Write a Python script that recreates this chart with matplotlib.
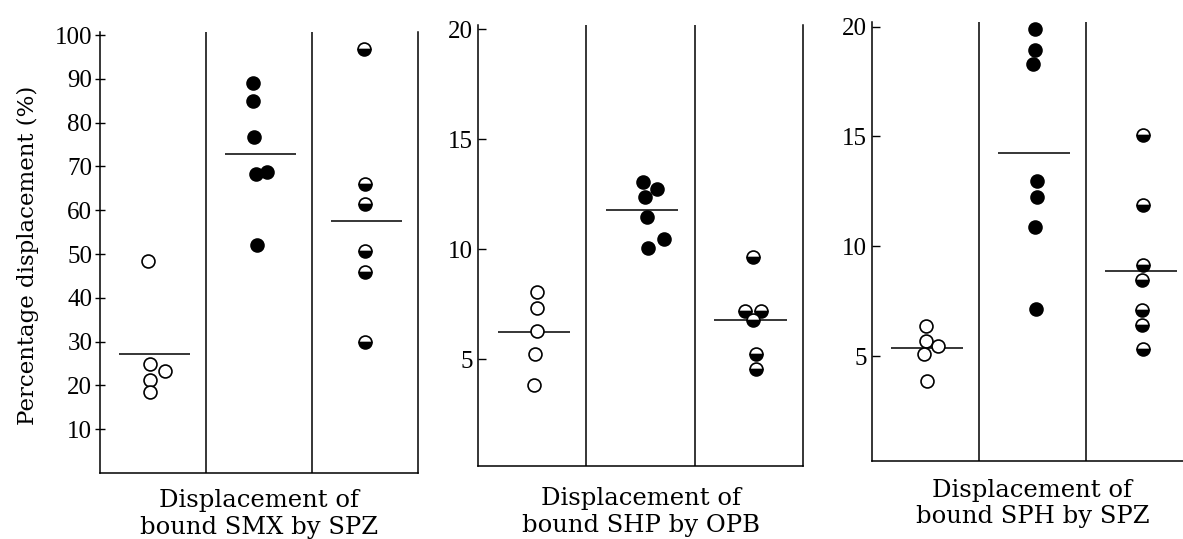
import matplotlib
matplotlib.use("Agg")
import matplotlib.pyplot as plt

plt.rcParams["font.family"] = ["DejaVu Serif"]

# three experiments, three groups each: control (open), drug (filled), half
titles = ["Displacement of\nbound SMX by SPZ",
          "Displacement of\nbound SHP by OPB",
          "Displacement of\nbound SPH by SPZ"]

smx_open = [48.3, 24.8, 23.3, 21.2, 18.4]
smx_fill = [89.0, 84.9, 76.7, 68.3, 68.8, 52.1]
smx_half = [96.7, 66.0, 61.4, 50.8, 45.9, 30.0]
smx_mean = [27.1, 72.8, 57.5]

shp_open = [8.06, 7.33, 6.29, 5.25, 3.85]
shp_fill = [13.03, 12.75, 12.38, 11.44, 10.44, 10.07]
shp_half = [9.65, 7.2, 7.2, 6.77, 5.25, 4.57]
shp_mean = [6.24, 11.8, 6.77]

sph_open = [6.36, 5.67, 5.45, 5.07, 3.85]
sph_fill = [19.88, 18.96, 18.29, 12.96, 12.25, 10.88, 7.16]
sph_half = [15.09, 11.9, 9.13, 8.45, 7.09, 6.43, 5.34]
sph_mean = [5.37, 14.27, 8.88]

# horizontal jitter of the dots inside their column (column units)
smx_jit = [[-0.05, -0.03, 0.11, -0.03, -0.03],
           [-0.06, -0.06, -0.05, -0.03, 0.08, -0.02],
           [-0.01, 0.0, 0.0, 0.0, 0.0, 0.0]]
shp_jit = [[0.04, 0.04, 0.04, 0.03, 0.02],
           [0.02, 0.15, 0.04, 0.06, 0.22, 0.07],
           [0.04, -0.04, 0.11, 0.04, 0.07, 0.07]]
sph_jit = [[0.01, 0.01, 0.12, -0.01, 0.02],
           [0.02, 0.02, 0.01, 0.04, 0.04, 0.02, 0.03],
           [0.03, 0.03, 0.03, 0.02, 0.02, 0.02, 0.03]]

yticks = [list(range(10, 101, 10)), [5, 10, 15, 20], [5, 10, 15, 20]]
ylims = [(0, 100.8), (0.15, 20.2), (0.2, 20.23)]
boxes = [[0.0845, 0.1224, 0.2688, 0.8191],
         [0.4041, 0.1354, 0.2747, 0.8189],
         [0.7369, 0.1440, 0.2716, 0.8158]]
label_y = [-0.093, -0.104, -0.096]

panels = [(smx_open, smx_fill, smx_half, smx_mean, smx_jit),
          (shp_open, shp_fill, shp_half, shp_mean, shp_jit),
          (sph_open, sph_fill, sph_half, sph_mean, sph_jit)]

fig = plt.figure(figsize=(11.83, 5.39), dpi=100)
ms, mew = 9.3, 1.2

for i, (op, fi, ha, mn, jit) in enumerate(panels):
    ax = fig.add_axes(boxes[i])
    groups = [op, fi, ha]
    for g, vals in enumerate(groups):
        xs = [g + 0.5 + j for j in jit[g]]
        if g == 0:
            ax.plot(xs, vals, "o", ms=ms, mew=mew, mfc="white", mec="black",
                    ls="none", clip_on=False, zorder=3)
        elif g == 1:
            ax.plot(xs, vals, "o", ms=ms, mew=mew, mfc="black", mec="black",
                    ls="none", clip_on=False, zorder=3)
        else:
            ax.plot(xs, vals, "o", ms=ms, mew=mew, fillstyle="bottom",
                    mfc="black", mfcalt="white", mec="black",
                    ls="none", clip_on=False, zorder=3)
        ax.hlines(mn[g], g + 0.18, g + 0.85, color="black", lw=1.1, zorder=2)
    for d in (1, 2):
        ax.axvline(d, color="black", lw=1.1)
    ax.set_xlim(0, 3)
    ax.set_ylim(*ylims[i])
    ax.set_xticks([])
    ax.set_yticks(yticks[i])
    ax.spines["top"].set_visible(False)
    for s in ("left", "bottom", "right"):
        ax.spines[s].set_linewidth(1.1)
    if i == 0:
        ax.tick_params(axis="y", direction="inout", length=7, width=1.0,
                       pad=2, labelsize=18)
    else:
        ax.tick_params(axis="y", direction="in", length=6, width=1.0,
                       pad=3.5, labelsize=18)
    for t in ax.get_yticklabels():
        t.set_fontfamily("Liberation Serif")
    ax.text(0.5, label_y[i], titles[i], transform=ax.transAxes,
            ha="center", va="center", fontsize=17.5, linespacing=1.2)

fig.text(0.0237, 0.527, "Percentage displacement (%)", rotation=90,
         ha="center", va="center", fontsize=16.5)

fig.savefig("out.png", dpi=100, facecolor="white")
